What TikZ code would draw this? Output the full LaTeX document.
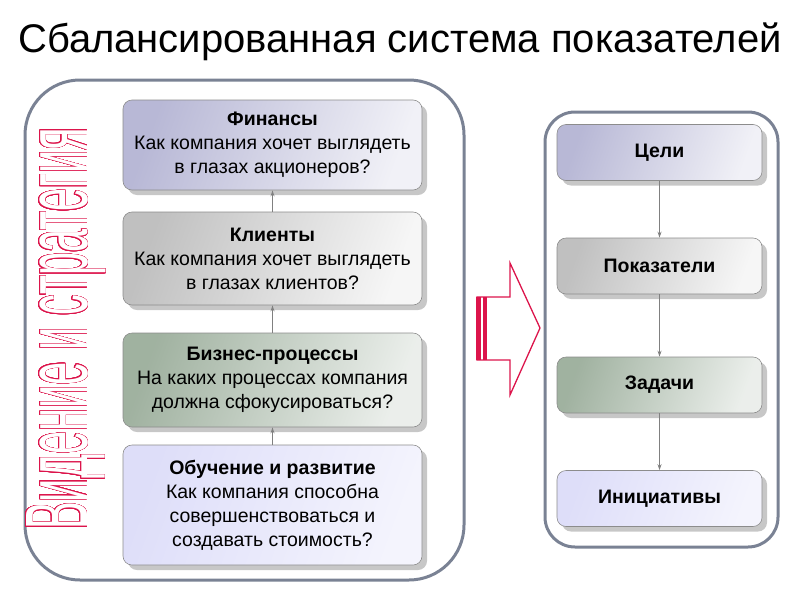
\documentclass[tikz,border=0pt]{standalone}
\usepackage{fontspec}
\setmainfont{Liberation Sans}
\usepackage{contour}
\contournumber{32}
\contourlength{0.7pt}
\usetikzlibrary{shadows,arrows.meta}
\definecolor{crim}{RGB}{220,20,75}
\definecolor{frame}{RGB}{122,130,148}
\definecolor{finc}{RGB}{160,160,200}
\definecolor{clic}{RGB}{165,165,165}
\definecolor{busc}{RGB}{120,145,120}
\definecolor{lrnc}{RGB}{200,200,245}
\definecolor{conn}{RGB}{128,128,128}
\tikzset{
  bigframe/.style={draw=frame, line width=3pt},
  card/.style={draw=black!45, line width=0.6pt, rounded corners=9pt, align=center,
     drop shadow={shadow xshift=5pt, shadow yshift=-5pt, fill=black!22, opacity=1}},
  lcard/.style={card, minimum width=299pt, font=\fontsize{19.5}{24}\selectfont},
  rcard/.style={card, minimum width=205pt, minimum height=56pt, font=\fontsize{19.5}{22}\selectfont\bfseries},
  conn/.style={draw=conn, line width=1pt, -{Stealth[length=6pt,width=4pt]}},
  fin/.style={left color=finc!75, middle color=finc, right color=finc!15, shading angle=70},
  cli/.style={left color=clic!70, middle color=clic, right color=clic!10, shading angle=70},
  bus/.style={left color=busc!70, middle color=busc, right color=busc!15, shading angle=70},
  lrn/.style={left color=lrnc!60, middle color=lrnc, right color=lrnc!20, shading angle=70},
}
\begin{document}
\begin{tikzpicture}[x=1pt,y=-1pt]
\useasboundingbox (0,0) rectangle (800,600);
\node[font=\fontsize{40}{44}\selectfont, anchor=base, inner sep=0pt] (title) at (400,52) {Сбалансированная система показателей};

\draw[bigframe, rounded corners=55pt] (25,80) rectangle (464,580);
\draw[bigframe, rounded corners=30pt] (545,112) rectangle (778,547);

\node[rotate=90, anchor=base west, inner sep=0pt] (vision) at (87,530)
  {\resizebox{402pt}{61pt}{\fontsize{84}{84}\selectfont\textcolor{white}{\contour{crim}{Видение и стратегия}}}};

\node[lcard, fin, minimum height=90pt] (fin) at (272.5,145)
  {\textbf{Финансы}\\Как компания хочет выглядеть\\в глазах акционеров?};
\node[lcard, cli, minimum height=93pt] (cli) at (272.5,258.5)
  {\textbf{Клиенты}\\Как компания хочет выглядеть\\в глазах клиентов?};
\node[lcard, bus, minimum height=94pt] (bus) at (272.5,380)
  {\textbf{Бизнес-процессы}\\На каких процессах компания\\должна сфокусироваться?};
\node[lcard, lrn, minimum height=120pt] (lrn) at (272.5,505)
  {\textbf{Обучение и развитие}\\Как компания способна\\совершенствоваться и\\создавать стоимость?};

\draw[conn] (cli) -- (fin);
\draw[conn] (bus) -- (cli);
\draw[conn] (lrn) -- (bus);

\node[rcard, fin] (goal) at (659.5,152.5) {Цели};
\node[rcard, cli] (ind) at (659.5,266) {Показатели};
\node[rcard, bus] (task) at (659.5,385) {Задачи};
\node[rcard, lrn] (init) at (659.5,498.5) {Инициативы};

\draw[conn] (goal) -- (ind);
\draw[conn] (ind) -- (task);
\draw[conn] (task) -- (init);

\draw[crim, line width=1.3pt, line join=miter] (477,297) -- (510,297) -- (510,263) -- (540,328) -- (510,395) -- (510,360) -- (477,360) -- cycle;
\fill[crim] (476,297) rectangle (481,360);
\fill[crim] (483,297) rectangle (487,360);
\end{tikzpicture}
\end{document}
